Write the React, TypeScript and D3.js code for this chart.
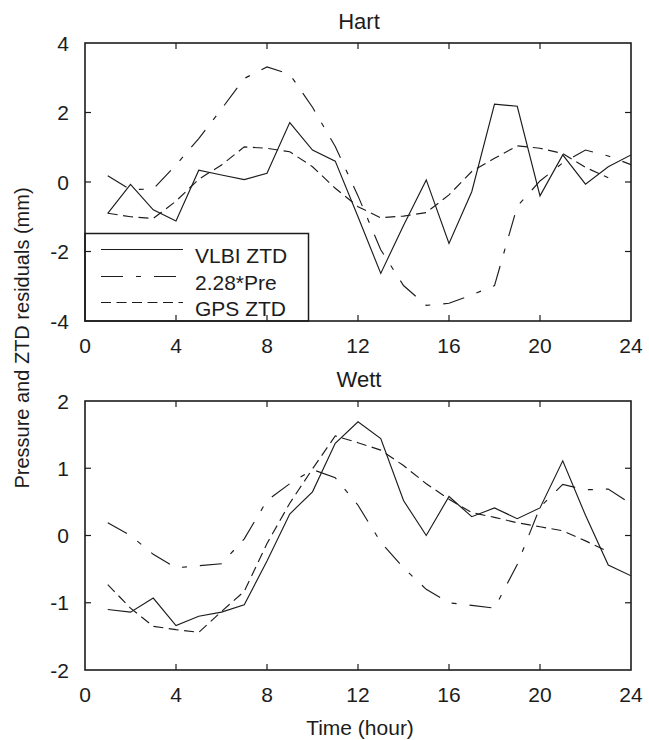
import React from "react";
import * as d3 from "d3";

// ---- data ----
const hours = [1, 2, 3, 4, 5, 6, 7, 8, 9, 10, 11, 12, 13, 14, 15, 16, 17, 18, 19, 20, 21, 22, 23, 24];

const hartVlbi = [-0.9, -0.07, -0.8, -1.12, 0.34, 0.2, 0.07, 0.25, 1.71, 0.92, 0.6, -1.0, -2.63, -1.25, 0.06, -1.77, -0.28, 2.24, 2.18, -0.4, 0.78, -0.06, 0.44, 0.78];
const hartPre = [0.18, -0.22, -0.2, 0.49, 1.25, 2.1, 2.98, 3.31, 3.1, 2.15, 1.02, -0.4, -1.95, -2.98, -3.55, -3.49, -3.25, -2.98, -0.7, 0.03, 0.55, 0.92, 0.75, 0.5];
const hartGps = [-0.9, -1.0, -1.05, -0.55, 0.08, 0.49, 1.01, 0.97, 0.87, 0.44, -0.18, -0.71, -1.03, -0.98, -0.88, -0.37, 0.3, 0.68, 1.04, 0.97, 0.82, 0.42, 0.12];

const wettVlbi = [-1.1, -1.14, -0.93, -1.34, -1.2, -1.14, -1.03, -0.38, 0.32, 0.65, 1.37, 1.69, 1.44, 0.52, 0.0, 0.58, 0.28, 0.41, 0.25, 0.41, 1.11, 0.3, -0.44, -0.6];
const wettPre = [0.19, 0.0, -0.28, -0.48, -0.45, -0.42, -0.05, 0.52, 0.77, 0.98, 0.86, 0.45, -0.1, -0.48, -0.8, -1.0, -1.04, -1.08, -0.43, 0.42, 0.76, 0.68, 0.69, 0.47];
const wettGps = [-0.73, -1.08, -1.35, -1.4, -1.44, -1.13, -0.83, -0.12, 0.48, 0.99, 1.48, 1.38, 1.27, 1.04, 0.77, 0.54, 0.34, 0.27, 0.19, 0.13, 0.07, -0.08, -0.24];

const xTicks = [0, 4, 8, 12, 16, 20, 24];
const hartYTicks = [-4, -2, 0, 2, 4];
const wettYTicks = [-2, -1, 0, 1, 2];
const seriesNames = ["VLBI ZTD", "2.28*Pre", "GPS ZTD"];
const panelTitles = ["Hart", "Wett"];
const xLabel = "Time (hour)";
const yLabel = "Pressure and ZTD residuals (mm)";

// ---- layout ----
const W = 649;
const H = 740;
const X0 = 85;
const X1 = 631;
const FONT = "'Liberation Sans', Arial, Helvetica, sans-serif";
const INK = "#1c1c1c";
const DASHES = [null, "22,13,5,13", "10,5.5"];
const TICK = 6;

const xScale = d3.scaleLinear().domain([0, 24]).range([X0, X1]);

type PanelProps = {
  title: string;
  top: number;
  bottom: number;
  yDomain: [number, number];
  yTicks: number[];
  series: number[][];
  legend: boolean;
  clipId: string;
};

function Panel({ title, top, bottom, yDomain, yTicks, series, legend, clipId }: PanelProps) {
  const y = d3.scaleLinear().domain(yDomain).range([bottom, top]);
  const line = d3
    .line<number>()
    .x((_, i) => xScale(hours[i]))
    .y((d) => y(d));
  const innerX = xTicks.slice(1, -1);
  const innerY = yTicks.slice(1, -1);
  const lgTop = 233.5;
  const lgRight = 308.5;
  const rows = [249.5, 276.5, 302.5];
  return (
    <g>
      <text x={359} y={top - 14} textAnchor="middle" fontSize={22} fontFamily={FONT} fill={INK}>
        {title}
      </text>
      <defs>
        <clipPath id={clipId}>
          <rect x={X0} y={top} width={X1 - X0} height={bottom - top} />
        </clipPath>
      </defs>
      <g clipPath={`url(#${clipId})`}>
        {series.map((s, k) => (
          <path
            key={k}
            d={line(s) || ""}
            fill="none"
            stroke={INK}
            strokeWidth={1.15}
            strokeDasharray={DASHES[k] || undefined}
          />
        ))}
      </g>
      {legend && (
        <g>
          <rect x={X0} y={lgTop} width={lgRight - X0} height={bottom - lgTop} fill="#fff" stroke={INK} strokeWidth={1.5} />
          {seriesNames.map((n, k) => (
            <g key={n}>
              <line
                x1={101}
                x2={183}
                y1={rows[k]}
                y2={rows[k]}
                stroke={INK}
                strokeWidth={1.15}
                strokeDasharray={DASHES[k] || undefined}
              />
              <text x={195} y={rows[k] + 13.5} fontSize={21} fontFamily={FONT} fill={INK}>
                {n}
              </text>
            </g>
          ))}
        </g>
      )}
      <rect x={X0} y={top} width={X1 - X0} height={bottom - top} fill="none" stroke={INK} strokeWidth={1.6} />
      {innerX.map((t) => (
        <g key={"x" + t}>
          <line x1={xScale(t)} x2={xScale(t)} y1={bottom} y2={bottom - TICK} stroke={INK} strokeWidth={1.2} />
          <line x1={xScale(t)} x2={xScale(t)} y1={top} y2={top + TICK} stroke={INK} strokeWidth={1.2} />
        </g>
      ))}
      {innerY.map((t) => (
        <g key={"y" + t}>
          <line x1={X0} x2={X0 + TICK} y1={y(t)} y2={y(t)} stroke={INK} strokeWidth={1.2} />
          <line x1={X1} x2={X1 - TICK} y1={y(t)} y2={y(t)} stroke={INK} strokeWidth={1.2} />
        </g>
      ))}
      {xTicks.map((t) => (
        <text key={"xl" + t} x={xScale(t)} y={bottom + 32} textAnchor="middle" fontSize={21} fontFamily={FONT} fill={INK}>
          {t}
        </text>
      ))}
      {yTicks.map((t) => (
        <text key={"yl" + t} x={X0 - 16} y={y(t) + 7.5} textAnchor="end" fontSize={21} fontFamily={FONT} fill={INK}>
          {t}
        </text>
      ))}
    </g>
  );
}

export default function App() {
  return (
    <svg width={W} height={H} style={{ position: "absolute", left: 0, top: 0, background: "#fff" }}>
      <rect x={0} y={0} width={W} height={H} fill="#fff" />
      <Panel
        title={panelTitles[0]}
        top={43}
        bottom={321}
        yDomain={[-4, 4]}
        yTicks={hartYTicks}
        series={[hartVlbi, hartPre, hartGps]}
        legend={true}
        clipId="clipHart"
      />
      <Panel
        title={panelTitles[1]}
        top={401}
        bottom={670}
        yDomain={[-2, 2]}
        yTicks={wettYTicks}
        series={[wettVlbi, wettPre, wettGps]}
        legend={false}
        clipId="clipWett"
      />
      <text x={360} y={735} textAnchor="middle" fontSize={21} fontFamily={FONT} fill={INK}>
        {xLabel}
      </text>
      <text transform="translate(29,338) rotate(-90)" textAnchor="middle" fontSize={20} fontFamily={FONT} fill={INK}>
        {yLabel}
      </text>
    </svg>
  );
}
